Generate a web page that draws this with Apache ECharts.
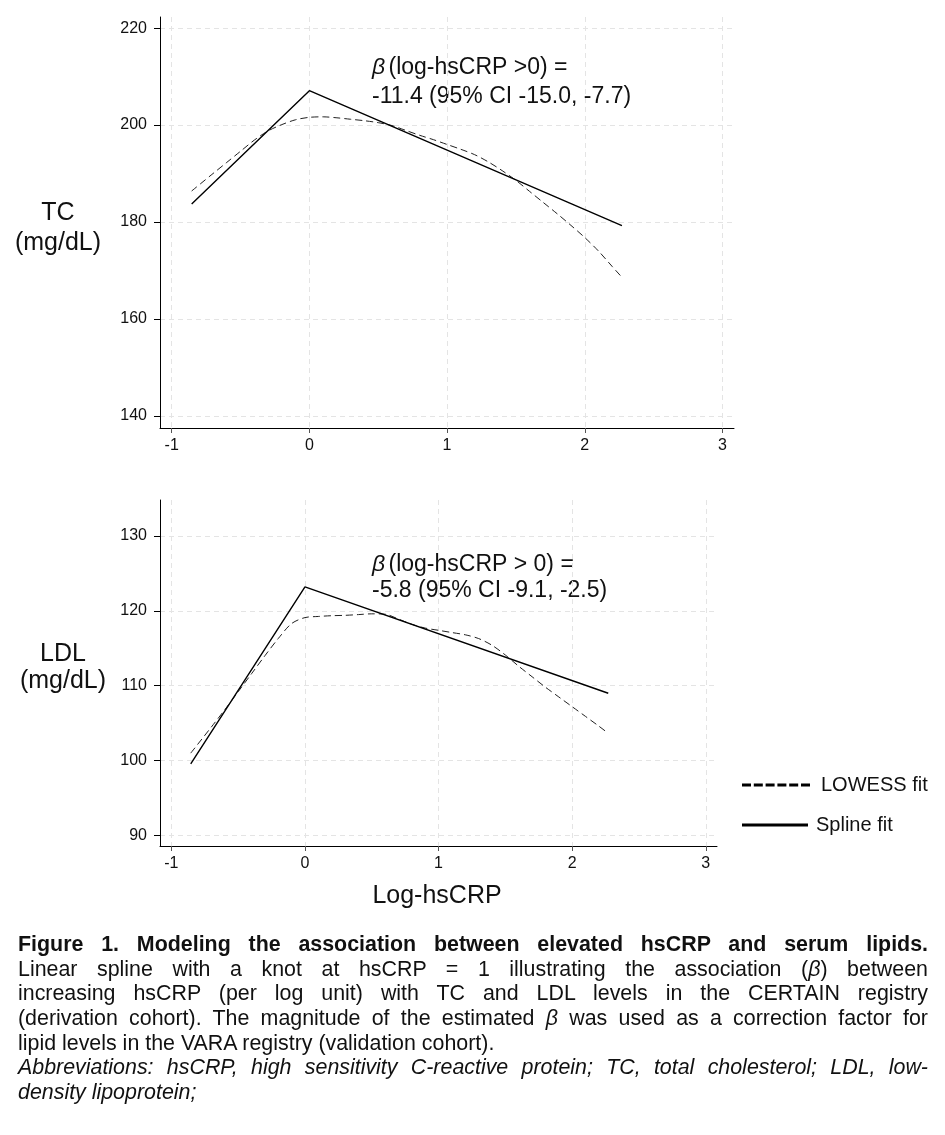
<!DOCTYPE html>
<html><head><meta charset="utf-8">
<script src="https://cdn.jsdelivr.net/npm/echarts@6/dist/echarts.min.js"></script>
<style>
html,body{margin:0;padding:0;background:#fff;}
#chart{position:absolute;left:0;top:0;width:945px;height:1135px;}
#cap{position:absolute;left:18px;top:932px;width:910px;font-family:"Liberation Sans",Arial,sans-serif;font-size:21.4px;line-height:24.7px;color:#111;}
#cap div{white-space:nowrap;height:24.7px;}
#cap span{white-space:nowrap;}
#cap .b{font-weight:bold;}
#cap .i{font-style:italic;}
</style></head>
<body>
<div id="chart"></div>
<div id="cap">
<div class="j b"><span>Figure 1. Modeling the association between elevated hsCRP and serum lipids.</span></div>
<div class="j"><span>Linear spline with a knot at hsCRP = 1 illustrating the association (<i>β</i>) between</span></div>
<div class="j"><span>increasing hsCRP (per log unit) with TC and LDL levels in the CERTAIN registry</span></div>
<div class="j"><span>(derivation cohort). The magnitude of the estimated <i>β</i> was used as a correction factor for</span></div>
<div><span>lipid levels in the VARA registry (validation cohort).</span></div>
<div class="j i"><span>Abbreviations: hsCRP, high sensitivity C-reactive protein; TC, total cholesterol; LDL, low-</span></div>
<div class="i"><span>density lipoprotein;</span></div>
</div>
<script>
// ---- data ----
const xTicks = [-1, 0, 1, 2, 3];
const tcTicks = [140, 160, 180, 200, 220];
const ldlTicks = [90, 100, 110, 120, 130];

const splineX = [-0.855, 0, 2.27];
const tcSplineY = [183.7, 207.1, 179.25];
const ldlSplineY = [99.56, 123.2, 109.0];

const lowessX = [-0.855, -0.7, -0.6, -0.5, -0.4, -0.3, -0.2, -0.1, 0, 0.1, 0.2, 0.3, 0.4, 0.5, 0.6, 0.7, 0.8, 0.9, 1.0, 1.1, 1.2, 1.3, 1.4, 1.5, 1.6, 1.7, 1.8, 1.9, 2.0, 2.1, 2.2, 2.27];
const tcLowessY = [186.4, 190.0, 192.3, 194.6, 196.9, 198.8, 200.1, 201.1, 201.6, 201.7, 201.5, 201.2, 200.9, 200.5, 199.9, 198.9, 197.9, 197.0, 196.0, 195.0, 193.9, 192.4, 190.6, 188.6, 186.3, 184.0, 181.7, 179.3, 176.8, 174.0, 170.8, 168.6];
const ldlLowessY = [101.0, 104.5, 106.8, 109.2, 111.6, 114.0, 116.3, 118.3, 119.1, 119.25, 119.35, 119.4, 119.5, 119.6, 119.55, 118.9, 118.2, 117.7, 117.4, 117.1, 116.8, 116.3, 115.4, 114.1, 112.6, 111.2, 109.8, 108.5, 107.2, 105.9, 104.6, 103.65];

const zip = (xs, ys) => xs.map((x, i) => [x, ys[i]]);

// caption justification
document.querySelectorAll('#cap .j').forEach(d => {
  const s = d.firstElementChild;
  const w = s.getBoundingClientRect().width;
  const n = (s.textContent.match(/ /g) || []).length;
  if (w < 910) { s.style.wordSpacing = ((910 - w) / n) + 'px'; }
  else { s.style.display = 'inline-block'; s.style.transformOrigin = '0 0'; s.style.transform = 'scaleX(' + (910 / w) + ')'; }
});

const FONT = '"Liberation Sans", Arial, sans-serif';
const chart = echarts.init(document.getElementById('chart'), null, {renderer: 'canvas'});

function xAxisCfg(gi) {
  return {
    type: 'value', gridIndex: gi, min: -1.085, max: 3.084,
    axisLine: {show: true, onZero: false, lineStyle: {color: '#000', width: 1}},
    axisTick: {show: true, length: 5, customValues: xTicks, lineStyle: {color: '#555'}},
    axisLabel: {customValues: xTicks, color: '#111', fontFamily: FONT, fontSize: 16, margin: 10},
    splitLine: {show: true, lineStyle: {color: '#e4e4e4', type: [5, 4], width: 1}}
  };
}
function yAxisCfg(gi, min, max, ticks) {
  return {
    type: 'value', gridIndex: gi, min: min, max: max,
    axisLine: {show: true, onZero: false, lineStyle: {color: '#000', width: 1}},
    axisTick: {show: true, length: 6, customValues: ticks, lineStyle: {color: '#000'}},
    axisLabel: {customValues: ticks, color: '#111', fontFamily: FONT, fontSize: 16, margin: 13},
    splitLine: {show: true, lineStyle: {color: '#e4e4e4', type: [5, 4], width: 1}}
  };
}
const lowessStyle = {color: '#222', width: 1, type: [7, 4]};
const splineStyle = {color: '#000', width: 1.4, type: 'solid'};
const dashIcon = 'path://M0,0h9v3h-9zM11.8,0h9v3h-9zM23.6,0h9v3h-9zM35.4,0h9v3h-9zM47.2,0h9v3h-9zM59,0h9v3h-9z';
const solidIcon = 'path://M0,0h66v3h-66z';
const legendText = {fontFamily: FONT, fontSize: 20, color: '#111', padding: [0, 0, 0, 6]};

chart.setOption({
  animation: false,
  backgroundColor: '#fff',
  grid: [
    {left: 160, top: 17, width: 574, height: 411},
    {left: 160, top: 500, width: 557, height: 346}
  ],
  xAxis: [xAxisCfg(0), xAxisCfg(1)],
  yAxis: [yAxisCfg(0, 137.5, 222.3, tcTicks), yAxisCfg(1, 88.6, 134.8, ldlTicks)],
  legend: [
    {left: 737, top: 770, itemWidth: 68, itemHeight: 14, textStyle: legendText,
     data: [{name: 'LOWESS fit', icon: dashIcon, itemStyle: {color: '#000'}}]},
    {left: 737, top: 810, itemWidth: 66, itemHeight: 14, textStyle: {fontFamily: FONT, fontSize: 20, color: '#111', padding: [0, 0, 0, 3]},
     data: [{name: 'Spline fit', icon: solidIcon, itemStyle: {color: '#000'}}]}
  ],
  series: [
    {name: 'LOWESS fit', type: 'line', xAxisIndex: 0, yAxisIndex: 0, data: zip(lowessX, tcLowessY), smooth: 0.3, symbol: 'none', lineStyle: lowessStyle, itemStyle: {color: '#000'}},
    {name: 'Spline fit', type: 'line', xAxisIndex: 0, yAxisIndex: 0, data: zip(splineX, tcSplineY), symbol: 'none', lineStyle: splineStyle, itemStyle: {color: '#000'}},
    {name: 'LOWESS fit', type: 'line', xAxisIndex: 1, yAxisIndex: 1, data: zip(lowessX, ldlLowessY), smooth: 0.3, symbol: 'none', lineStyle: lowessStyle, itemStyle: {color: '#000'}},
    {name: 'Spline fit', type: 'line', xAxisIndex: 1, yAxisIndex: 1, data: zip(splineX, ldlSplineY), symbol: 'none', lineStyle: splineStyle, itemStyle: {color: '#000'}}
  ],
  graphic: [
    {type: 'text', left: 372, top: 56, style: {rich: {b: {fontStyle: 'italic', fontFamily: FONT, fontSize: 23}, n: {fontFamily: FONT, fontSize: 23}}, text: '{b|β} {n|(log-hsCRP >0) =}', fill: '#111'}},
    {type: 'text', left: 372, top: 85, style: {text: '-11.4 (95% CI -15.0, -7.7)', fontFamily: FONT, fontSize: 23, fill: '#111'}},
    {type: 'text', left: 372, top: 553, style: {rich: {b: {fontStyle: 'italic', fontFamily: FONT, fontSize: 23}, n: {fontFamily: FONT, fontSize: 23}}, text: '{b|β} {n|(log-hsCRP > 0) =}', fill: '#111'}},
    {type: 'text', left: 372, top: 579, style: {text: '-5.8 (95% CI -9.1, -2.5)', fontFamily: FONT, fontSize: 23, fill: '#111'}},
    {type: 'text', x: 58, y: 213, style: {text: 'TC', fontFamily: FONT, fontSize: 25, fill: '#111', align: 'center', verticalAlign: 'middle'}},
    {type: 'text', x: 58, y: 243, style: {text: '(mg/dL)', fontFamily: FONT, fontSize: 25, fill: '#111', align: 'center', verticalAlign: 'middle'}},
    {type: 'text', x: 63, y: 654, style: {text: 'LDL', fontFamily: FONT, fontSize: 25, fill: '#111', align: 'center', verticalAlign: 'middle'}},
    {type: 'text', x: 63, y: 681, style: {text: '(mg/dL)', fontFamily: FONT, fontSize: 25, fill: '#111', align: 'center', verticalAlign: 'middle'}},
    {type: 'text', x: 437, y: 896, style: {text: 'Log-hsCRP', fontFamily: FONT, fontSize: 25, fill: '#111', align: 'center', verticalAlign: 'middle'}}
  ]
});
</script>
</body></html>
